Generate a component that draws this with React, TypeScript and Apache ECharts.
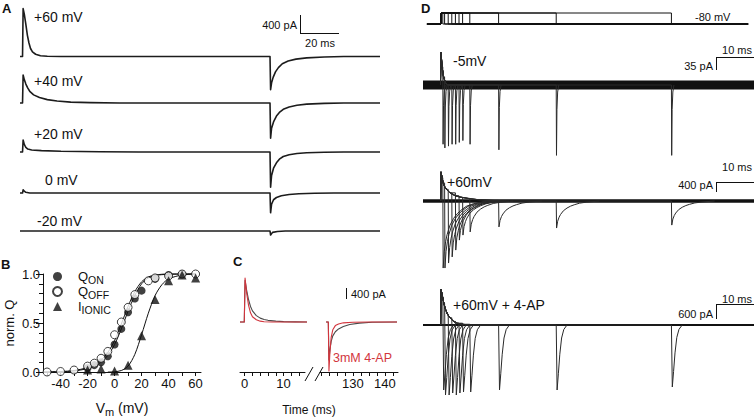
import React, { useEffect, useRef } from "react";
import * as echarts from "echarts";

const FONT = "'Liberation Sans', Arial, Helvetica, sans-serif";
const INK = "#111111";
const TRACE = "#1c1c1c";
const RED = "#d2353d";

// ---------------- Panel A : currents at different test potentials (t ms, I pA)
const A_LABELS = ["+60 mV", "+40 mV", "+20 mV", "0 mV", "-20 mV"];
const A_P60 = [[-1, 0], [0.3, 0], [0.6, 1130], [1.2, 1000], [2, 760], [2.8, 500], [3.6, 320], [4.4, 190], [5.4, 110], [7, 55], [9.5, 20], [13, 6], [20, 0], [127.2, 0], [127.5, -780], [128, -620], [128.8, -490], [130, -360], [131.5, -260], [133.5, -170], [136.5, -105], [140.5, -60], [146, -30], [155, -10], [165, 0], [183.6, 0]];
const A_P40 = [[-1, 0], [0.3, 0], [0.6, 620], [1.2, 520], [2, 420], [3, 330], [4, 260], [6, 180], [9, 120], [13, 75], [18, 45], [25, 20], [35, 8], [50, 0], [127.2, 0], [127.5, -780], [128, -560], [129, -420], [130.5, -290], [132, -210], [134, -140], [137, -90], [141, -50], [146, -25], [155, -8], [165, 0], [183.6, 0]];
const A_P20 = [[-1, 0], [0.3, 0], [0.6, 265], [1.2, 170], [2, 100], [3, 65], [5, 45], [10, 30], [20, 15], [40, 5], [60, 0], [127.2, 0], [127.5, -780], [128, -520], [129, -360], [130.5, -240], [132, -160], [134, -100], [137, -60], [141, -35], [146, -18], [155, -5], [165, 0], [183.6, 0]];
const A_0 = [[-1, 0], [0.3, 0], [0.6, 70], [1.2, 40], [2, 15], [4, 0], [127.2, 0], [127.5, -440], [128, -250], [129, -150], [130.5, -100], [133, -60], [137, -35], [142, -18], [150, -5], [160, 0], [183.6, 0]];
const A_M20 = [[-1, 0], [127.2, 0], [127.5, -90], [128.5, -30], [131, -10], [135, 0], [183.6, 0]];
const A_TRACES = [A_P60, A_P40, A_P20, A_0, A_M20];

// ---------------- Panel B : normalised charge vs voltage (mV, norm.)
const B_Q_ON = [[-20, 0.04], [-15, 0.07], [-10, 0.1], [-5, 0.16], [0, 0.28], [5, 0.44], [10, 0.61], [15, 0.75], [20, 0.83], [30, 0.95], [40, 0.99], [50, 1.0]];
const B_Q_OFF = [[-50, 0.0], [-40, 0.005], [-30, 0.02], [-20, 0.06], [-15, 0.09], [-10, 0.14], [-5, 0.21], [0, 0.38], [5, 0.51], [10, 0.66], [15, 0.79], [25, 0.93], [30, 0.96], [40, 0.98], [50, 1.0], [60, 1.0]];
const B_I_IONIC = [[-20, 0.02], [-10, 0.03], [0, 0.01], [10, 0.07], [20, 0.37], [30, 0.74], [40, 0.93], [50, 0.99], [60, 0.96]];
const B_FIT_ON = [[-53, 0], [-40, 0.003], [-30, 0.01], [-20, 0.035], [-15, 0.06], [-10, 0.1], [-5, 0.17], [0, 0.28], [5, 0.44], [10, 0.62], [15, 0.78], [20, 0.9], [25, 0.96], [30, 0.985], [40, 0.997], [60, 1]];
const B_FIT_OFF = [[-53, 0], [-40, 0.005], [-30, 0.015], [-20, 0.045], [-15, 0.075], [-10, 0.12], [-5, 0.2], [0, 0.32], [5, 0.49], [10, 0.67], [15, 0.82], [20, 0.92], [25, 0.97], [30, 0.99], [40, 1.0], [60, 1]];
const B_FIT_IONIC = [[-5, 0], [0, 0.003], [5, 0.015], [10, 0.06], [15, 0.18], [20, 0.38], [25, 0.6], [30, 0.78], [35, 0.89], [40, 0.95], [50, 0.99], [60, 1.0]];
const B_X_TICKS = [-50, -40, -30, -20, -10, 0, 10, 20, 30, 40, 50, 60];
const B_X_LABELS = [-40, -20, 0, 20, 40, 60];

// ---------------- Panel C : control (black) vs 3 mM 4-AP (red)
const C_CTRL_ON = [[-1.2, 0], [-0.1, 0], [0.1, 1500], [0.5, 1150], [1, 800], [1.5, 560], [2, 400], [3, 230], [4, 140], [5, 90], [6, 60], [8, 30], [10, 15], [13, 5], [17, 0]];
const C_AP_ON = [[-1.2, 0], [-0.1, 0], [0.1, 1580], [0.5, 1050], [1, 600], [1.5, 330], [2, 190], [3, 80], [4, 30], [5, 10], [7, 0], [17, 0]];
const C_CTRL_OFF = [[121.6, 0], [122.3, 0], [122.5, -1370], [122.8, -1000], [123.2, -700], [123.7, -500], [124.5, -350], [125.5, -250], [127, -160], [129, -90], [132, -40], [136, -10], [143.8, 0]];
const C_AP_OFF = [[121.6, 0], [122.3, 0], [122.5, -1760], [122.8, -1100], [123.2, -550], [123.7, -280], [124.5, -130], [125.5, -70], [127, -30], [130, -10], [135, 0], [143.8, 0]];
const C_TICKS_1 = [0, 2, 4, 6, 8, 10, 12, 14];
const C_LABELS_1 = [0, 10];
const C_TICKS_2 = [120, 122.5, 125, 127.5, 130, 132.5, 135, 137.5, 140, 142.5];
const C_LABELS_2 = [130, 140];

// ---------------- Panel D : variable-duration steps
const D_STEP_MS = [0.5, 1, 2, 3, 4, 5, 6, 8, 16, 32, 64];
const D_PROTOCOL_MV = [-80, 60];
const D_PROTOCOL_T = [-3.9, 85.3];
const D_T_MIN = -5;
const D_T_MAX = 86.94;
// ON transients: [t ms, fraction of peak]
const D1_ON = [[-0.15, 0], [0, 1], [0.3, 0.55], [0.7, 0.25], [1.2, 0.08], [1.8, 0]];
const D2_ON = [[-0.1, 0], [0, 1], [0.3, 0.8], [0.6, 0.62], [1, 0.5], [1.5, 0.4], [2.5, 0.28], [4, 0.18], [5.5, 0.13], [7.5, 0.09], [10, 0.05], [14, 0.02], [19, 0]];
const D3_ON = [[-0.1, 0], [0, 1], [0.4, 0.8], [0.8, 0.6], [1.2, 0.45], [1.8, 0.3], [2.5, 0.2], [3.5, 0.1], [4.5, 0.05], [6, 0.02], [8, 0]];
const D_ON_PEAK_PA = [89, 1280, 1440];
// tail shapes after repolarisation: [t after step end, fraction of tail amplitude]
const D1_TAIL = [[0.08, -1], [0.2, -0.35], [0.4, -0.1], [0.7, 0]];
const D2_TAIL = [[0.1, -1], [0.4, -0.75], [0.8, -0.6], [1.2, -0.5], [2, -0.36], [3, -0.26], [4, -0.19], [5, -0.14], [6.5, -0.08], [8.5, -0.04], [12, 0]];
const D3_TAIL = [[0.25, -1], [0.6, -0.75], [1.0, -0.45], [1.5, -0.2], [2.1, -0.07], [3, 0]];
// tail amplitudes (pA) for each step duration
const D1_TAIL_PA = [160, 170, 165, 160, 160, 155, 150, 160, 175, 190, 190];
const D2_TAIL_PA = [2950, 2950, 2730, 2460, 2160, 1720, 1500, 1360, 1140, 1190, 1060];
const D3_TAIL_PA = [2600, 2800, 2800, 2720, 2800, 2720, 2680, 2680, 2600, 2600, 2480];

// one sweep: ON transient up to the step end, then the tail (baseline drawn separately)
function buildStepTrace(d: number, on: number[][], onPeak: number, tail: number[][], amp: number): number[][] {
  const pts: number[][] = [];
  let last = 0;
  for (const [t, f] of on) {
    if (t < d) {
      pts.push([t, f * onPeak]);
      last = f * onPeak;
    }
  }
  pts.push([d, last]);
  for (const [t, f] of tail) pts.push([d + t, f * amp]);
  return pts;
}

function buildOption() {
  const grid: any[] = [];
  const xAxis: any[] = [];
  const yAxis: any[] = [];
  const series: any[] = [];
  const hidden = {
    show: false,
    axisLine: { show: false },
    axisTick: { show: false },
    axisLabel: { show: false },
    splitLine: { show: false },
  };

  function addGrid(box: any, xr: number[], yr: number[], xExtra: any = {}, yExtra: any = {}) {
    const i = grid.length;
    grid.push({ left: box.left, top: box.top, width: box.width, height: box.height, show: false });
    xAxis.push({ gridIndex: i, type: "value", min: xr[0], max: xr[1], ...hidden, ...xExtra });
    yAxis.push({ gridIndex: i, type: "value", min: yr[0], max: yr[1], ...hidden, ...yExtra });
    return i;
  }
  function traceGrid(left: number, width: number, xr: number[], base: number, top: number, bottom: number, k: number, xExtra: any = {}) {
    return addGrid({ left, top, width, height: bottom - top }, xr, [-(bottom - base) * k, (base - top) * k], xExtra);
  }
  function line(i: number, data: any[], color: string, width: number, extra: any = {}) {
    series.push({
      type: "line", xAxisIndex: i, yAxisIndex: i, data, showSymbol: false, symbol: "none",
      clip: false, silent: true, lineStyle: { color, width, join: "round" }, z: 2, ...extra,
    });
  }
  // several polylines (sweeps) drawn through the axes of grid i
  function sweepSeries(i: number, sweeps: number[][][], color: string, width: number, z = 2) {
    series.push({
      type: "custom", coordinateSystem: "cartesian2d", xAxisIndex: i, yAxisIndex: i,
      silent: true, clip: false, z,
      data: sweeps.map((sw) => sw[0]),
      renderItem: (params: any, api: any) => ({
        type: "polyline",
        shape: { points: sweeps[params.dataIndex].map((p) => api.coord(p)) },
        style: { stroke: color, lineWidth: width, fill: null, lineJoin: "round" },
      }),
    });
  }

  // ---- Panel A
  const A_BASE = [54, 103, 152, 193, 231];
  A_TRACES.forEach((tr, j) => {
    const i = traceGrid(20, 360, [-1, 183.6], A_BASE[j], A_BASE[j] - 60, A_BASE[j] + 45, 22.2);
    line(i, tr, TRACE, 1.6);
  });

  // ---- Panel B
  const axisLine = { show: true, onZero: false, lineStyle: { color: INK, width: 1 } };
  const bi = addGrid(
    { left: 43, top: 274, width: 158, height: 98 }, [-53, 64], [0, 1],
    {
      show: true, position: "bottom", axisLine,
      axisTick: { show: true, customValues: B_X_TICKS, length: 4, lineStyle: { color: INK } },
      axisLabel: { show: true, customValues: B_X_LABELS, fontSize: 13, color: INK, fontFamily: FONT, margin: 5 },
      name: "{v|V}{s|m}{v| (mV)}", nameLocation: "middle", nameGap: 27,
      nameTextStyle: { rich: { v: { fontSize: 14, fontFamily: FONT, color: INK }, s: { fontSize: 11, fontFamily: FONT, color: INK, padding: [7, 0, 0, 0] } } },
    },
    {
      show: true, position: "left", interval: 0.5, axisLine,
      axisTick: { show: true, length: 7, lineStyle: { color: INK } },
      minorTick: { show: true, splitNumber: 5, length: 4, lineStyle: { color: INK } },
      axisLabel: { show: true, formatter: (v: number) => v.toFixed(1), fontSize: 13, color: INK, fontFamily: FONT, margin: 3 },
      name: "norm. Q", nameLocation: "middle", nameGap: 27,
      nameTextStyle: { fontSize: 13, fontFamily: FONT, color: INK },
    }
  );
  const fit = (data: number[][]) => line(bi, data, INK, 1, { smooth: 0.3, z: 1 });
  fit(B_FIT_ON);
  fit(B_FIT_OFF);
  fit(B_FIT_IONIC);
  series.push({ type: "scatter", name: "Q_ON", xAxisIndex: bi, yAxisIndex: bi, data: B_Q_ON, symbol: "circle", symbolSize: 8, clip: false, itemStyle: { color: INK }, z: 3 });
  series.push({ type: "scatter", name: "Q_OFF", xAxisIndex: bi, yAxisIndex: bi, data: B_Q_OFF, symbol: "circle", symbolSize: 8, clip: false, itemStyle: { color: "#ffffff", borderColor: INK, borderWidth: 1 }, z: 4 });
  series.push({ type: "scatter", name: "I_IONIC", xAxisIndex: bi, yAxisIndex: bi, data: B_I_IONIC, symbol: "triangle", symbolSize: 9, clip: false, itemStyle: { color: INK }, z: 5 });

  // ---- Panel C
  const cAxis = (ticks: number[], labels: number[]) => ({
    show: true, position: "bottom", axisLine,
    axisTick: { show: true, customValues: ticks, length: 4, lineStyle: { color: INK } },
    axisLabel: { show: true, customValues: labels, fontSize: 13, color: INK, fontFamily: FONT, margin: 5 },
  });
  const c1 = traceGrid(240, 65, [-1.2, 15.5], 322, 270, 372, 36, cAxis(C_TICKS_1, C_LABELS_1));
  const c2 = traceGrid(320, 78, [119.7, 144.1], 322, 270, 372, 36, cAxis(C_TICKS_2, C_LABELS_2));
  line(c1, C_CTRL_ON, "#4a4a4a", 1.1);
  line(c1, C_AP_ON, RED, 1.1, { z: 3 });
  line(c2, C_CTRL_OFF, "#4a4a4a", 1.1);
  line(c2, C_AP_OFF, RED, 1.1, { z: 3 });

  // ---- Panel D
  const dRange = [D_T_MIN, D_T_MAX];
  const dp = addGrid({ left: 423, top: 13, width: 331, height: 11 }, dRange, [D_PROTOCOL_MV[0], D_PROTOCOL_MV[1]]);
  const protocolSweeps = D_STEP_MS.map((d) => [
    [D_PROTOCOL_T[0], D_PROTOCOL_MV[0]], [0, D_PROTOCOL_MV[0]], [0, D_PROTOCOL_MV[1]],
    [d, D_PROTOCOL_MV[1]], [d, D_PROTOCOL_MV[0]], [D_PROTOCOL_T[1], D_PROTOCOL_MV[0]],
  ]);
  sweepSeries(dp, protocolSweeps, INK, 1);

  const dPanels = [
    { base: 85, top: 40, bottom: 160, k: 2.7, on: D1_ON, tail: D1_TAIL, amps: D1_TAIL_PA, band: 9 },
    { base: 201, top: 160, bottom: 280, k: 44, on: D2_ON, tail: D2_TAIL, amps: D2_TAIL_PA, band: 3.5 },
    { base: 325, top: 280, bottom: 405, k: 40, on: D3_ON, tail: D3_TAIL, amps: D3_TAIL_PA, band: 2.2 },
  ];
  dPanels.forEach((p, j) => {
    const i = traceGrid(423, 331, dRange, p.base, p.top, p.bottom, p.k);
    sweepSeries(i, [[[D_T_MIN, 0], [D_T_MAX, 0]]], "#111", p.band, 1);
    const sweeps = D_STEP_MS.map((d, s) => buildStepTrace(d, p.on, D_ON_PEAK_PA[j], p.tail, p.amps[s]));
    sweepSeries(i, sweeps, "#2a2a2a", 1, 2);
  });

  // ---- graphic annotations
  const txt = (x: number, y: number, text: string, o: any = {}) => {
    const align = o.align || "left";
    return {
      type: "text", x, y, silent: true, z: 110,
      style: {
        text, fontFamily: FONT, fontSize: o.size || 14, fontWeight: o.weight || "normal",
        fill: o.color || INK, align, textAlign: align, verticalAlign: "middle", textVerticalAlign: "middle",
      },
    };
  };
  const seg = (x1: number, y1: number, x2: number, y2: number, color = INK, w = 1) => ({
    type: "line", silent: true, z: 110, shape: { x1, y1, x2, y2 }, style: { stroke: color, lineWidth: w },
  });
  // white masks over a stray vertical rendering artefact at the left edge of panel D,
  // leaving the baselines (protocol and the three current traces) visible
  const mask = (y1: number, y2: number) => ({
    type: "rect", silent: true, z: 100,
    shape: { x: 419.5, y: y1, width: 19.5, height: y2 - y1 },
    style: { fill: "#ffffff", stroke: null },
  });

  const graphic: any[] = [
    mask(14, 22.5), mask(25.5, 80), mask(90, 198.5), mask(203.5, 323), mask(327, 406),
    txt(2, 8, "A", { size: 13, weight: "bold" }),
    txt(1, 264, "B", { size: 13, weight: "bold" }),
    txt(233, 261, "C", { size: 13, weight: "bold" }),
    txt(421, 8, "D", { size: 13, weight: "bold" }),
    // A labels
    txt(34, 17, A_LABELS[0]),
    txt(34, 81, A_LABELS[1]),
    txt(34, 134, A_LABELS[2]),
    txt(45, 180, A_LABELS[3]),
    txt(37, 221, A_LABELS[4]),
    // A scale bar
    seg(300.5, 15, 300.5, 33.5),
    seg(300, 33.5, 339, 33.5),
    txt(297, 25, "400 pA", { size: 11, align: "right" }),
    txt(320, 43, "20 ms", { size: 11, align: "center" }),
    // C annotations
    seg(346.5, 288, 346.5, 299),
    txt(351, 294, "400 pA", { size: 11 }),
    txt(333, 358, "3mM 4-AP", { size: 12.5, color: RED }),
    txt(309, 410, "Time (ms)", { size: 12, align: "center" }),
    seg(305, 381, 313, 367),
    seg(315, 381, 323, 367),
    // D annotations
    txt(695, 17, "-80 mV", { size: 11 }),
    txt(453, 61, "-5mV"),
    txt(447, 182, "+60mV"),
    txt(453, 305, "+60mV + 4-AP"),
    seg(716.5, 57, 716.5, 70), seg(716, 57.5, 754, 57.5),
    txt(737, 50, "10 ms", { size: 11, align: "center" }),
    txt(713, 66, "35 pA", { size: 11, align: "right" }),
    seg(716.5, 182, 716.5, 192), seg(716, 182.5, 754, 182.5),
    txt(737, 167, "10 ms", { size: 11, align: "center" }),
    txt(713, 185, "400 pA", { size: 11, align: "right" }),
    seg(716.5, 304, 716.5, 319), seg(716, 304.5, 754, 304.5),
    txt(737, 299, "10 ms", { size: 11, align: "center" }),
    txt(713, 314, "600 pA", { size: 11, align: "right" }),
  ];

  const legendNames: any = {
    Q_ON: "{q|Q}{s|ON}",
    Q_OFF: "{q|Q}{s|OFF}",
    I_IONIC: "{q|I}{s|IONIC}",
  };

  return {
    animation: false,
    backgroundColor: "#ffffff",
    textStyle: { fontFamily: FONT },
    grid, xAxis, yAxis, series, graphic,
    legend: {
      data: ["Q_ON", "Q_OFF", "I_IONIC"],
      orient: "vertical", left: 47, top: 265, itemWidth: 9, itemHeight: 9, itemGap: 0,
      selectedMode: false,
      formatter: (n: string) => legendNames[n],
      textStyle: {
        fontFamily: FONT, fontSize: 13, color: INK,
        rich: {
          q: { fontSize: 13, fontFamily: FONT, color: INK, padding: [0, 0, 0, 11] },
          s: { fontSize: 10.5, fontFamily: FONT, color: INK, padding: [6, 0, 0, 0] },
        },
      },
    },
  };
}

export default function App() {
  const ref = useRef<HTMLDivElement>(null);
  useEffect(() => {
    if (!ref.current) return;
    const chart = echarts.init(ref.current, null, { renderer: "svg" });
    chart.setOption(buildOption() as any);
    return () => chart.dispose();
  }, []);
  return (
    <div
      ref={ref}
      style={{ position: "fixed", left: 0, top: 0, width: 754, height: 419, background: "#fff" }}
    />
  );
}
